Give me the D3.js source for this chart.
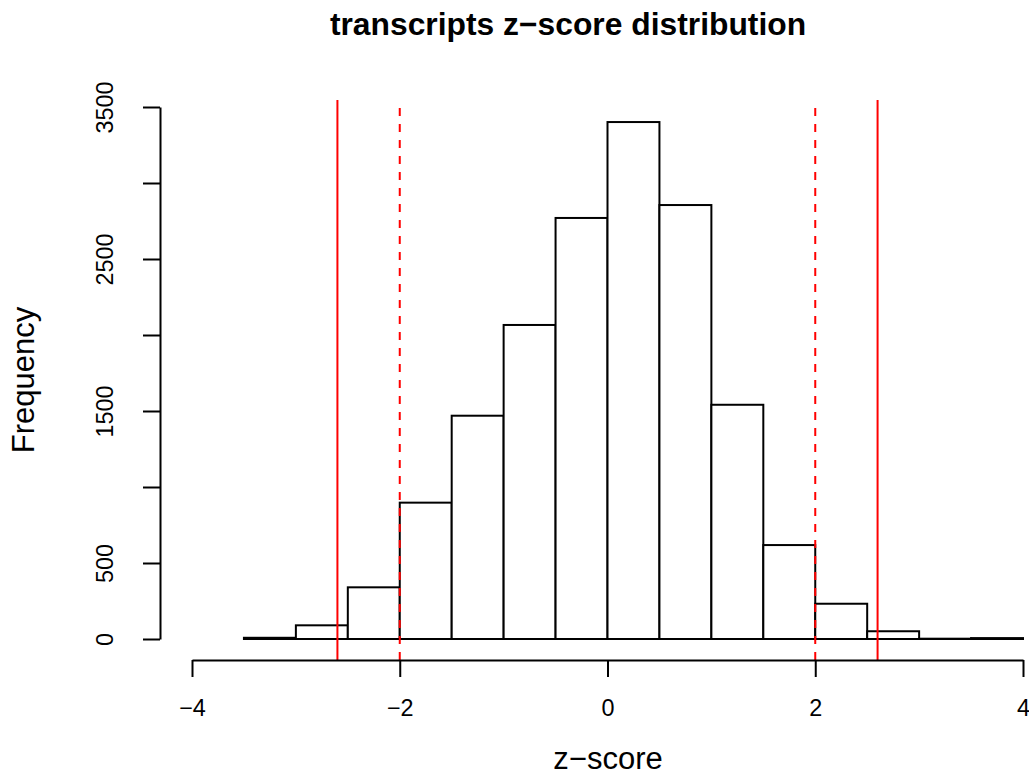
<!DOCTYPE html>
<html>
<head>
<meta charset="utf-8">
<script src="https://cdn.jsdelivr.net/npm/d3@7"></script>
<style>
  html, body { margin: 0; padding: 0; background: #ffffff; }
  svg { display: block; font-family: "Liberation Sans", Arial, Helvetica, sans-serif; }
</style>
</head>
<body>
<svg id="chart" width="1029" height="776"></svg>
<script>
// Histogram bins of transcript z-scores (bin width 0.5)
const binStarts = [-3.5, -3.0, -2.5, -2.0, -1.5, -1.0, -0.5, 0.0, 0.5, 1.0, 1.5, 2.0, 2.5, 3.0, 3.5];
const binWidth = 0.5;
const counts = [8, 90, 340, 897, 1469, 2066, 2770, 3401, 2855, 1541, 618, 232, 51, 2, 6];

// Axis ticks
const xTicks = [-4, -2, 0, 2, 4];
const yTicks = [0, 500, 1000, 1500, 2000, 2500, 3000, 3500];
const yTickLabels = ["0", "500", "", "1500", "", "2500", "", "3500"];

// Reference lines: dashed at ±2, solid at ±2.6
const dashedCutoffs = [-2, 2];
const solidCutoffs = [-2.6, 2.6];

const svg = d3.select("#chart");

const x = d3.scaleLinear().domain([-4, 4]).range([192, 1023]);
const y = d3.scaleLinear().domain([0, 3500]).range([639, 107]);

const plotTop = 100, plotBottom = 660, plotLeft = 160;
const minus = s => String(s).replace("-", "\u2212");

// Title
svg.append("text")
  .attr("x", 568).attr("y", 35)
  .attr("text-anchor", "middle")
  .attr("font-size", 31.8).attr("font-weight", "bold")
  .text("transcripts z\u2212score distribution");

// Bars
svg.append("g").selectAll("rect")
  .data(binStarts.map((s, i) => ({ s, c: counts[i] })))
  .join("rect")
  .attr("x", d => x(d.s))
  .attr("y", d => y(d.c))
  .attr("width", d => x(d.s + binWidth) - x(d.s))
  .attr("height", d => y(0) - y(d.c))
  .attr("fill", "#ffffff")
  .attr("stroke", "#000000")
  .attr("stroke-width", 2);

// Red cutoff lines
svg.append("g").selectAll("line")
  .data(solidCutoffs)
  .join("line")
  .attr("x1", d => x(d)).attr("x2", d => x(d))
  .attr("y1", plotBottom).attr("y2", plotTop)
  .attr("stroke", "#ff0000").attr("stroke-width", 2);

svg.append("g").selectAll("line")
  .data(dashedCutoffs)
  .join("line")
  .attr("x1", d => x(d)).attr("x2", d => x(d))
  .attr("y1", plotBottom).attr("y2", plotTop)
  .attr("stroke", "#ff0000").attr("stroke-width", 2)
  .attr("stroke-dasharray", "8,8");

// X axis
const xAxis = svg.append("g")
  .attr("transform", `translate(0,${plotBottom})`)
  .call(d3.axisBottom(x).tickValues(xTicks).tickSize(17).tickSizeOuter(0)
    .tickPadding(22).tickFormat(minus));
xAxis.select(".domain").attr("stroke", "#000").attr("stroke-width", 2);
xAxis.selectAll(".tick line").attr("stroke", "#000").attr("stroke-width", 2);
xAxis.selectAll(".tick text")
  .attr("font-size", 23.4).attr("fill", "#000")
  .attr("font-family", "'Liberation Sans', Arial, sans-serif");

// Y axis with rotated labels
const yAxis = svg.append("g")
  .attr("transform", `translate(${plotLeft},0)`)
  .call(d3.axisLeft(y).tickValues(yTicks).tickSize(17).tickSizeOuter(0)
    .tickFormat((d, i) => yTickLabels[i]));
yAxis.select(".domain").attr("stroke", "#000").attr("stroke-width", 2);
yAxis.selectAll(".tick line").attr("stroke", "#000").attr("stroke-width", 2);
yAxis.selectAll(".tick text")
  .attr("x", null).attr("dy", null)
  .attr("transform", "translate(-47,0) rotate(-90)")
  .attr("text-anchor", "middle")
  .attr("font-size", 23.4).attr("fill", "#000")
  .attr("font-family", "'Liberation Sans', Arial, sans-serif");

// Axis titles
svg.append("text")
  .attr("x", 608).attr("y", 769)
  .attr("text-anchor", "middle")
  .attr("font-size", 31)
  .text("z\u2212score");

svg.append("text")
  .attr("transform", "translate(34,380) rotate(-90)")
  .attr("text-anchor", "middle")
  .attr("font-size", 31)
  .text("Frequency");
</script>
</body>
</html>
